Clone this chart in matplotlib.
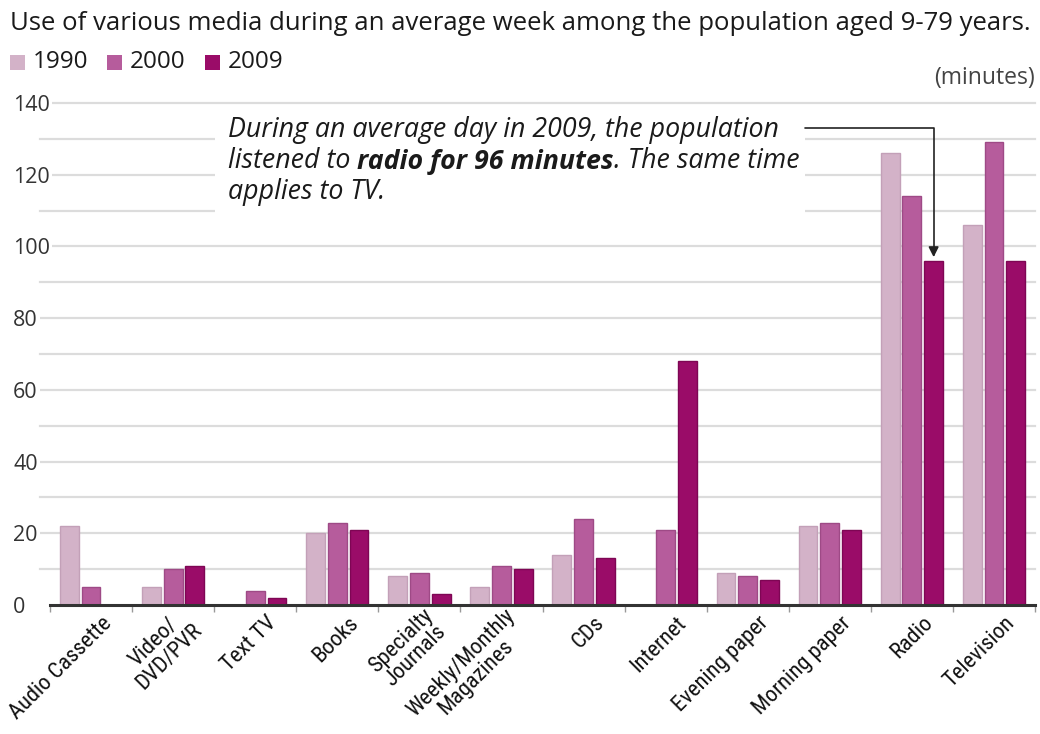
import matplotlib
matplotlib.use("Agg")
import matplotlib.pyplot as plt
import matplotlib.transforms as mtransforms
from matplotlib.patches import Rectangle
from matplotlib import font_manager
import numpy as np

categories = ["Audio Cassette", "Video/\nDVD/PVR", "Text TV", "Books", "Specialty\nJournals",
              "Weekly/Monthly\nMagazines", "CDs", "Internet", "Evening paper", "Morning paper",
              "Radio", "Television"]
years = ["1990", "2000", "2009"]
v1990 = [22, 5, 0, 20, 8, 5, 14, 0, 9, 22, 126, 106]
v2000 = [5, 10, 4, 23, 9, 11, 24, 21, 8, 23, 114, 129]
v2009 = [0, 11, 2, 21, 3, 10, 13, 68, 7, 21, 96, 96]
yticks = [0, 20, 40, 60, 80, 100, 120, 140]

colors = ["#d3b2c8", "#b65c9c", "#9a0c68"]
edges = ["#c3a0b8", "#9e4a86", "#7e0654"]

FONT = ["Open Sans", "DejaVu Sans"]
installed = {f.name for f in font_manager.fontManager.ttflist}
narrow_pref = [n for n in ["Roboto Condensed", "Liberation Sans Narrow", "Roboto"] if n in installed]
NARROW = narrow_pref[:1] + ["DejaVu Sans"]
plt.rcParams["font.family"] = FONT

W, H = 1040, 734
fig = plt.figure(figsize=(W / 100, H / 100), dpi=100)
ax = fig.add_axes([50 / W, 1 - 605 / H, 985 / W, (605 - 103) / H])

x = np.arange(len(categories))
bw = 0.23
step = 0.265
for i, (vals, c, e) in enumerate(zip([v1990, v2000, v2009], colors, edges)):
    ax.bar(x + (i - 1) * step, vals, width=bw, color=c, edgecolor=e, linewidth=1.0, zorder=3)

ax.set_xlim(-0.5, len(categories) - 0.5)
ax.set_ylim(0, 140)

# gridlines every 10
trans_grid = mtransforms.blended_transform_factory(ax.transAxes, ax.transData)
for g in range(10, 141, 10):
    ax.plot([-0.0105, 1.0], [g, g], transform=trans_grid, color="#dcdcdc", lw=1.6,
            zorder=1, clip_on=False)

for s in ["top", "right", "left"]:
    ax.spines[s].set_visible(False)
ax.spines["bottom"].set_color("#333333")
ax.spines["bottom"].set_linewidth(2.2)
ax.spines["bottom"].set_zorder(4)

ax.set_yticks(yticks)
ax.set_yticklabels([str(t) for t in yticks])
ax.tick_params(axis="y", length=0, pad=26.5, labelsize=15.5, labelcolor="#333333")
for lab in ax.get_yticklabels():
    lab.set_horizontalalignment("left")
    lab.set_bbox(dict(facecolor="white", edgecolor="none", pad=1.5))

ax.set_xticks(x)
ax.set_xticklabels([])
ax.tick_params(axis="x", length=0)
ax.set_xticks(np.arange(-0.5, len(categories), 1.0), minor=True)
ax.tick_params(axis="x", which="minor", length=5, width=1.0, color="#999999")

offset = mtransforms.ScaledTranslation(0.18, -0.15, fig.dpi_scale_trans)
for xi, cat in zip(x, categories):
    ax.text(xi, 0, cat, rotation=45, ha="right", va="center", rotation_mode="anchor",
            multialignment="center", fontsize=16.2, family=NARROW,
            color="#111111", transform=ax.transData + offset, linespacing=1.0)

# white box behind annotation
ax.add_patch(Rectangle((215 / W, 1 - 218 / H), (805 - 215) / W, (218 - 112) / H,
                       transform=fig.transFigure, facecolor="white", edgecolor="none",
                       zorder=2))

# annotation text
tsize = 19.3
fig.text(228 / W, 1 - 130 / H, "During an average day in 2009, the population",
         fontsize=tsize, style="italic", va="center", color="#1a1a1a")
t1 = fig.text(228 / W, 1 - 161 / H, "listened to ", fontsize=tsize, style="italic",
              va="center", color="#1a1a1a")
fig.canvas.draw()
t2 = ax.annotate("radio for 96 minutes", xy=(1, 0), xycoords=t1, va="bottom",
                 fontsize=tsize, style="italic", weight="bold", color="#1a1a1a",
                 annotation_clip=False)
fig.canvas.draw()
ax.annotate(". The same time", xy=(1, 0), xycoords=t2, va="bottom",
            fontsize=tsize, style="italic", color="#1a1a1a", annotation_clip=False)
fig.text(228 / W, 1 - 192 / H, "applies to TV.", fontsize=tsize, style="italic",
         va="center", color="#1a1a1a")

# arrow from annotation to radio 2009 bar
ax.annotate("", xy=(10 + step, v2009[10] + 1), xytext=(8.7, 133.0),
            arrowprops=dict(arrowstyle="-|>,head_length=0.6,head_width=0.3", color="#222222",
                            lw=1.2, shrinkA=0, shrinkB=0,
                            connectionstyle="angle,angleA=0,angleB=90,rad=0"),
            zorder=5)

# title, legend, unit
fig.text(10 / W, 1 - 23 / H, "Use of various media during an average week among the population aged 9-79 years.",
         fontsize=18.5, va="center", color="#1a1a1a")
lx = [10, 107, 205]
for xx, c, yr in zip(lx, colors, years):
    fig.patches.append(Rectangle((xx / W, 1 - 70 / H), 15 / W, 15 / H, transform=fig.transFigure,
                                 facecolor=c, edgecolor="none", figure=fig))
    fig.text((xx + 23) / W, 1 - 62 / H, yr, fontsize=17.5, va="center", color="#1a1a1a")

fig.text(1035 / W, 1 - 78 / H, "(minutes)", fontsize=16.5, va="center", ha="right", color="#444444")

fig.savefig("out.png", dpi=100)
